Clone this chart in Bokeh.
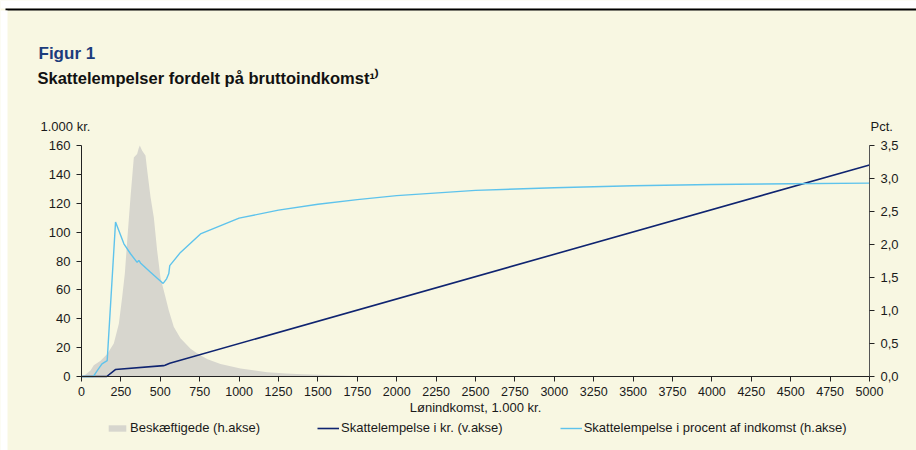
from bokeh.plotting import figure
from bokeh.models import (Range1d, LinearAxis, Legend, LegendItem, Label,
                          BoxAnnotation, FixedTicker, CustomJSTickFormatter)
from bokeh.embed import file_html
from bokeh.resources import INLINE

# ---------------- data ----------------
x_ticks = [0, 250, 500, 750, 1000, 1250, 1500, 1750, 2000, 2250, 2500, 2750, 3000,
           3250, 3500, 3750, 4000, 4250, 4500, 4750, 5000]
left_ticks = [0, 20, 40, 60, 80, 100, 120, 140, 160]
right_ticks = [0.0, 0.5, 1.0, 1.5, 2.0, 2.5, 3.0, 3.5]

# Beskæftigede (h.akse) - distribution of employed by income
hist_income = [0, 20, 57, 78, 121, 163, 205, 237, 258, 275, 290, 311, 332, 353, 362,
               370, 385, 406, 417, 438, 459, 480, 501, 533, 554, 586, 628, 692, 740,
               800, 882, 1009, 1100, 1178, 1300, 1400, 1500, 1700, 2000, 2500, 5000]
hist_share = [0, 0.02, 0.09, 0.17, 0.24, 0.34, 0.50, 0.80, 1.20, 1.56, 2.06, 2.72, 3.32,
              3.37, 3.45, 3.50, 3.42, 3.35, 3.12, 2.72, 2.41, 1.91, 1.50, 1.20, 1.00,
              0.75, 0.58, 0.42, 0.34, 0.26, 0.19, 0.12, 0.09, 0.065, 0.045, 0.035,
              0.025, 0.012, 0.005, 0, 0]

# Skattelempelse i kr. (v.akse), 1.000 kr.
kr_income = [0, 160, 215, 520, 530, 560, 5000]
kr_value = [0, 0, 4.8, 7.5, 7.8, 9.2, 146.5]

# Skattelempelse i procent af indkomst (h.akse)
pct_income = [0, 75, 100, 130, 163, 216, 269, 311, 353, 364, 374, 438, 518, 540, 554,
              560, 628, 755, 1000, 1250, 1500, 1750, 2000, 2500, 3000, 3500, 4000,
              4500, 5000]
pct_value = [0, 0, 0.09, 0.19, 0.24, 2.34, 2.01, 1.86, 1.73, 1.76, 1.72, 1.58, 1.41,
             1.48, 1.56, 1.68, 1.88, 2.16, 2.40, 2.52, 2.61, 2.68, 2.74, 2.82, 2.86,
             2.89, 2.91, 2.92, 2.93]

title_text = "Figur 1"
subtitle_text = "Skattelempelser fordelt på bruttoindkomst¹⁾"
left_unit = "1.000 kr."
right_unit = "Pct."
x_label = "Lønindkomst, 1.000 kr."
series_names = ["Beskæftigede (h.akse)", "Skattelempelse i kr. (v.akse)",
                "Skattelempelse i procent af indkomst (h.akse)"]

# ---------------- layout (pixels) ----------------
W, H = 916, 450
FL, FR, FT, FB = 81, 869, 145, 376      # plotting area edges
FONT = "Liberation Sans"
BG = "#f8f7e2"
NAVY = "#0f2470"
LIGHT = "#5ec3ec"
GRAY = "#d7d6ce"
TXT = "#1a1a1a"

x0, x1 = x_ticks[0], x_ticks[-1]
y0, y1 = left_ticks[0], left_ticks[-1]
r0, r1 = right_ticks[0], right_ticks[-1]
kx = (FR - FL) / (x1 - x0)
ky = (FB - FT) / (y1 - y0)
kr = (FB - FT) / (r1 - r0)

def px_x(px):
    return x0 + (px - FL) / kx

def px_y(py):
    return y0 + (FB - py) / ky

p = figure(width=W, height=H, output_backend="svg", toolbar_location=None,
           x_range=Range1d(px_x(0), px_x(W)), y_range=Range1d(px_y(H), px_y(0)),
           min_border=0)
p.background_fill_color = BG
p.border_fill_color = BG
p.outline_line_color = None
p.grid.visible = False
p.extra_y_ranges = {"right": Range1d(r0 - (H - FB) / kr, r1 + FT / kr)}

# page decoration: white margin and black rule at the top, white strip left
p.add_layout(BoxAnnotation(bottom=px_y(8), fill_color="white", fill_alpha=1,
                           line_color=None, level="underlay"))
p.add_layout(BoxAnnotation(bottom=px_y(10), top=px_y(8), left=px_x(5),
                           fill_color="black", fill_alpha=1, line_color=None,
                           level="underlay"))
p.add_layout(BoxAnnotation(right=px_x(7), top=px_y(10), fill_color="white",
                           fill_alpha=1, line_color=None, level="underlay"))

# glyphs
hist = p.varea(x=hist_income, y1=0, y2=hist_share, fill_color=GRAY,
               y_range_name="right")
kr_line = p.line(kr_income, kr_value, line_color=NAVY, line_width=1.6)
pct_line = p.line(pct_income, pct_value, line_color=LIGHT, line_width=1.4,
                  y_range_name="right")

def style_axis(ax, size="13px"):
    ax.major_tick_in = 0
    ax.major_tick_out = 5
    ax.minor_tick_line_color = None
    ax.axis_line_color = "#222222"
    ax.major_tick_line_color = "#222222"
    ax.major_label_text_font = FONT
    ax.major_label_text_font_size = size
    ax.major_label_text_color = TXT
    ax.major_label_standoff = 6

xa = p.xaxis[0]
xa.ticker = FixedTicker(ticks=x_ticks)
xa.fixed_location = y0
xa.bounds = (x0, x1)
style_axis(xa, "12.5px")
xa.major_label_standoff = 5
xa.axis_label = x_label
xa.axis_label_text_font = FONT
xa.axis_label_text_font_size = "13px"
xa.axis_label_text_font_style = "normal"
xa.axis_label_text_color = TXT
xa.axis_label_standoff = 1

ya = p.yaxis[0]
ya.ticker = FixedTicker(ticks=left_ticks)
ya.fixed_location = x0
ya.bounds = (y0, y1)
style_axis(ya)

ra = LinearAxis(y_range_name="right", ticker=FixedTicker(ticks=right_ticks),
                fixed_location=x1, bounds=(r0, r1),
                formatter=CustomJSTickFormatter(
                    code="return tick.toFixed(1).replace('.', ',');"))
style_axis(ra)
ra.axis_line_color = "#555555"
p.add_layout(ra, "right")

# texts
def add_label(text, px, py, size, style="normal", color=TXT, align="left"):
    p.add_layout(Label(x=px_x(px), y=px_y(py), text=text, text_font=FONT,
                       text_font_size=size, text_font_style=style,
                       text_color=color, text_align=align,
                       text_baseline="alphabetic"))

add_label(title_text, 38, 53, "17px", "bold", "#1c3c7c")
add_label(subtitle_text, 37, 77, "16.5px", "bold", "#111111")
add_label(left_unit, 40, 126, "13px")
add_label(right_unit, 870, 126, "13px")

# series legend
legend = Legend(items=[
    LegendItem(label=series_names[0], renderers=[hist]),
    LegendItem(label=series_names[1], renderers=[kr_line]),
    LegendItem(label=series_names[2], renderers=[pct_line]),
], orientation="horizontal", location=(106, H - 435))
legend.background_fill_alpha = 0
legend.border_line_color = None
legend.padding = 0
legend.margin = 0
legend.spacing = 57
legend.label_standoff = 2
legend.glyph_width = 22
legend.glyph_height = 8
legend.label_height = 14
legend.label_text_font = FONT
legend.label_text_font_size = "13px"
legend.label_text_color = TXT
p.add_layout(legend, "center")

open("out.html", "w").write(file_html(p, INLINE))
